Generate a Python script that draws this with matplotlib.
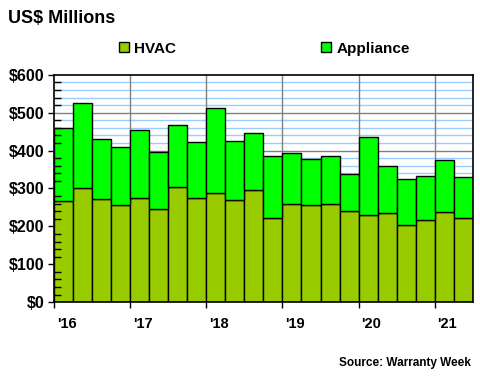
import numpy as np
import matplotlib.pyplot as plt
import matplotlib.transforms as mtrans
from matplotlib.ticker import MultipleLocator, FuncFormatter

# quarterly warranty claims, Q1 2016 .. Q2 2021
quarters = ['Q1 16', 'Q2 16', 'Q3 16', 'Q4 16', 'Q1 17', 'Q2 17', 'Q3 17', 'Q4 17',
            'Q1 18', 'Q2 18', 'Q3 18', 'Q4 18', 'Q1 19', 'Q2 19', 'Q3 19', 'Q4 19',
            'Q1 20', 'Q2 20', 'Q3 20', 'Q4 20', 'Q1 21', 'Q2 21']
hvac = [267, 301, 272, 256, 274, 245, 303, 274, 288, 269, 296, 222,
        259, 256, 259, 240, 230, 235, 203, 216, 238, 222]
total = [459, 525, 430, 409, 454, 396, 467, 422, 512, 425, 446, 385,
         393, 377, 385, 338, 435, 359, 325, 333, 376, 330]
appliance = [t - h for t, h in zip(total, hvac)]
year_labels = ["'16", "'17", "'18", "'19", "'20", "'21"]

plt.rcParams['font.family'] = ['Liberation Sans', 'DejaVu Sans']
plt.rcParams['font.weight'] = 'bold'

fig = plt.figure(figsize=(4.8, 3.8), dpi=100)
ax = fig.add_axes([0.1125, 0.205, 0.8725, 0.598])

x = np.arange(len(quarters))
ax.bar(x, hvac, width=1.0, align='edge', color='#99CC00', edgecolor='black',
       linewidth=1, label='HVAC', zorder=2)
ax.bar(x, appliance, width=1.0, bottom=hvac, align='edge', color='#00FF00',
       edgecolor='black', linewidth=1, label='Appliance', zorder=2)

ax.set_xlim(0, len(quarters))
ax.set_ylim(0, 600)

# gridlines behind the bars, ticks on top
for v in range(20, 600, 20):
    if v % 100 == 0:
        ax.axhline(v, color='#808080', linewidth=1, zorder=0.6)
    else:
        ax.axhline(v, color='#99CCFF', linewidth=1, zorder=0.5)
for v in range(4, len(quarters), 4):
    ax.axvline(v, color='#808080', linewidth=1, zorder=0.6)
ax.set_axisbelow(False)

ax.yaxis.set_major_locator(MultipleLocator(100))
ax.yaxis.set_minor_locator(MultipleLocator(20))
ax.yaxis.set_major_formatter(FuncFormatter(lambda v, p: '$%d' % v))

ax.set_xticks(np.arange(0, len(quarters), 4))
ax.set_xticklabels(year_labels, ha='left')

ax.tick_params(axis='y', which='major', direction='out', length=4, width=1,
               labelsize=11.5, pad=3)
ax.tick_params(axis='y', which='minor', direction='in', length=5, width=1)
ax.tick_params(axis='x', which='major', direction='out', length=4, width=1,
               labelsize=10.5, pad=7)
for s in ax.spines.values():
    s.set_linewidth(1.2)
    s.set_zorder(3)

# year labels sit a little right of the tick
offset = mtrans.ScaledTranslation(2 / 72, 0, fig.dpi_scale_trans)
for lbl in ax.get_xticklabels():
    lbl.set_transform(lbl.get_transform() + offset)

fig.text(0.017, 0.952, 'US$ Millions', fontsize=13, fontweight='bold', va='center')
fig.legend(loc='center', bbox_to_anchor=(0.551, 0.872), ncol=2, frameon=False,
           fontsize=11, handlelength=0.65, handleheight=0.65, handletextpad=0.35,
           columnspacing=9.5)
fig.text(0.982, 0.045, 'Source: Warranty Week', fontsize=8.5, fontweight='bold',
         ha='right', va='center')

fig.savefig('out.png', dpi=100)
